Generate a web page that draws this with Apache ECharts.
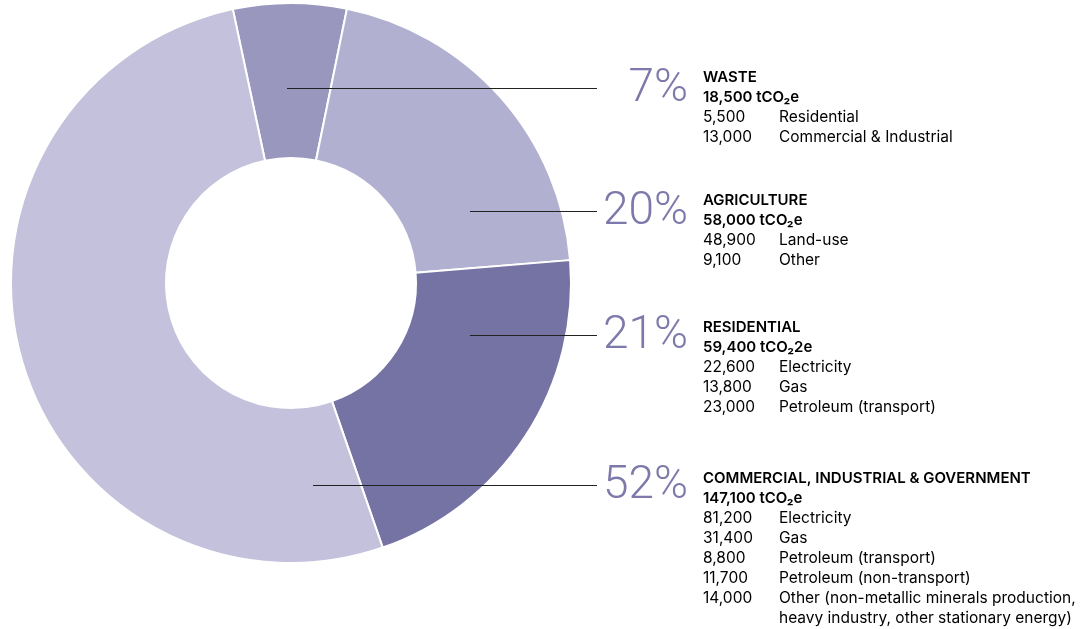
<!DOCTYPE html>
<html>
<head>
<meta charset="utf-8">
<script src="https://cdn.jsdelivr.net/npm/echarts@6/dist/echarts.min.js"></script>
<style>
  html, body { margin: 0; padding: 0; background: #fff; }
  #chart { width: 1085px; height: 629px; }
</style>
</head>
<body>
<div id="chart"></div>
<script>
  // data
  var sectors = ['WASTE', 'AGRICULTURE', 'RESIDENTIAL', 'COMMERCIAL, INDUSTRIAL & GOVERNMENT'];
  var totals = [18500, 58000, 59400, 147100];
  var totalUnits = ['tCO₂e', 'tCO₂e', 'tCO₂2e', 'tCO₂e'];
  var percents = [7, 20, 21, 52];
  var breakdownValues = [
    [5500, 13000],
    [48900, 9100],
    [22600, 13800, 23000],
    [81200, 31400, 8800, 11700, 14000]
  ];
  var breakdownLabels = [
    ['Residential', 'Commercial & Industrial'],
    ['Land-use', 'Other'],
    ['Electricity', 'Gas', 'Petroleum (transport)'],
    ['Electricity', 'Gas', 'Petroleum (transport)', 'Petroleum (non-transport)',
     'Other (non-metallic minerals production,\nheavy industry, other stationary energy)']
  ];
  var colors = ['#9a97bf', '#b2b0d0', '#7572a4', '#c3c1db'];

  // layout (leader lines and text blocks)
  var lineY = [88, 211, 335, 485];
  var lineStartX = [287, 470, 470, 313];
  var titleY = [76, 199, 326, 477];
  var lineEndX = 597;
  var pctRight = 688;
  var blockX = 703;
  var FONT = 'Inter';

  function fmt(v) { return v.toLocaleString('en-US'); }

  var chart = echarts.init(document.getElementById('chart'));

  var graphics = [];
  sectors.forEach(function (name, i) {
    var lines = ['{title|' + name + '}', '{total|' + fmt(totals[i]) + ' ' + totalUnits[i] + '}'];
    breakdownValues[i].forEach(function (v, j) {
      var parts = breakdownLabels[i][j].split('\n');
      lines.push('{num|' + fmt(v) + '}{txt|' + parts[0] + '}');
      for (var k = 1; k < parts.length; k++) lines.push('{wrap|' + parts[k] + '}');
    });
    graphics.push({
      type: 'text',
      left: blockX,
      top: titleY[i] - 6,
      style: {
        text: lines.join('\n'),
        fontFamily: FONT,
        rich: {
          title: { fontFamily: FONT, fontSize: 15, fontWeight: 600, color: '#1c1c1c', lineHeight: 20 },
          total: { fontFamily: FONT, fontSize: 15, fontWeight: 600, color: '#1c1c1c', lineHeight: 20 },
          num: { fontFamily: FONT, fontSize: 15.5, color: '#2e2e2e', width: 76, lineHeight: 20 },
          txt: { fontFamily: FONT, fontSize: 15.5, color: '#2e2e2e', lineHeight: 20 },
          wrap: { fontFamily: FONT, fontSize: 15.5, color: '#2e2e2e', lineHeight: 20, padding: [0, 0, 0, 76] }
        }
      }
    });
    // leader line drawn over the ring
    graphics.push({
      type: 'line',
      z: 100,
      shape: { x1: lineStartX[i], y1: lineY[i] + 0.5, x2: lineEndX, y2: lineY[i] + 0.5 },
      style: { stroke: '#222', lineWidth: 1 }
    });
  });

  var option = {
    animation: false,
    graphic: graphics,
    series: [{
      type: 'pie',
      center: [291, 283],
      radius: [125, 280],
      startAngle: 102,
      clockwise: true,
      avoidLabelOverlap: false,
      silent: true,
      itemStyle: { borderColor: '#fff', borderWidth: 2 },
      label: {
        show: true,
        position: 'outside',
        fontFamily: 'Roboto',
        fontWeight: 300,
        fontSize: 46,
        color: '#7d7aab',
        formatter: function (p) { return percents[p.dataIndex] + '%'; }
      },
      labelLine: { show: false },
      labelLayout: function (p) {
        var i = p.dataIndex;
        return { x: pctRight, y: lineY[i] + 1, align: 'right', verticalAlign: 'middle' };
      },
      data: sectors.map(function (name, i) {
        return { name: name, value: totals[i], itemStyle: { color: colors[i] } };
      })
    }]
  };
  chart.setOption(option);
</script>
</body>
</html>
